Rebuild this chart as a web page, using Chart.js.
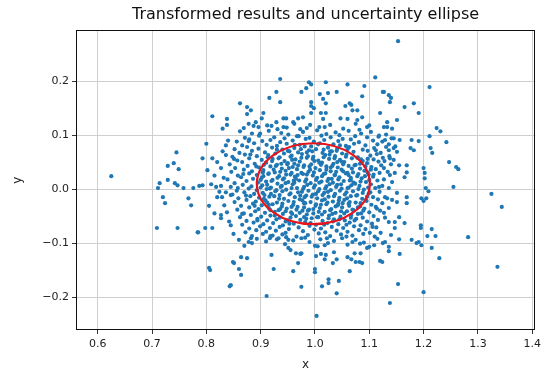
<!DOCTYPE html>
<html><head><meta charset="utf-8">
<script src="https://cdn.jsdelivr.net/npm/chart.js@4"></script>
<style>html,body{margin:0;padding:0;background:#fff}</style>
</head><body>
<canvas id="c" width="545" height="374"></canvas>
<script>
const chartTitle = 'Transformed results and uncertainty ellipse';
const xAxisLabel = 'x';
const yAxisLabel = 'y';
const xTickValues = [0.6, 0.7, 0.8, 0.9, 1.0, 1.1, 1.2, 1.3, 1.4];
const yTickValues = [-0.2, -0.1, 0.0, 0.1, 0.2];
const xRange = [0.56, 1.4055];
const yRange = [-0.261, 0.2944];
const ellipseCenter = [0.997, 0.010];
const ellipseRadii = [0.104, 0.075];

// outlying points
const outerPoints = [
[0.625,0.024],[1.153,0.274],[1.211,0.189],[1.325,-0.009],[1.344,-0.033],[1.336,-0.144],[1.2,-0.191],[1.138,-0.211],
[1.153,-0.176],[1.229,-0.128],[1.282,-0.089],[1.003,-0.235],[0.911,-0.198],[0.805,-0.146],[0.807,-0.150],[0.843,-0.180],
[0.849,-0.135],[0.709,-0.072],[0.747,-0.072],[0.784,-0.080],[0.711,0.002],[0.714,0.011],[0.72,-0.015],[0.724,-0.026],
[0.729,0.017],[0.729,0.043],[0.74,0.048],[0.745,0.068],[0.749,0.037],[0.742,0.011],[0.747,0.007],[0.758,0.002],
[0.767,-0.017],[0.772,-0.030],[0.776,0.002],[0.793,0.057],[0.811,0.057],[0.802,0.035],[0.787,0.006],[0.793,0.007],
[0.805,-0.031],[0.785,-0.080],[0.798,-0.072],[0.811,-0.072],[0.836,0.081],[0.836,0.063],[0.82,0.05],[0.827,0.039],
[0.809,0.009],[0.818,0.004],[0.827,0.006],[0.82,-0.015],[0.829,-0.015],[0.836,-0.006],[0.833,-0.03],[0.838,-0.043],
[0.845,-0.011],[0.827,-0.048],[0.827,-0.054],[0.845,-0.067],[0.838,0.119],[0.811,0.135],[0.838,0.13],
[0.936,0.204],[0.989,0.198],[0.993,0.194],[1.02,0.198],[1.06,0.194],[1.091,0.191],[1.111,0.207],[0.929,0.18],
[0.916,0.169],[0.936,0.161],[0.975,0.18],[0.984,0.187],[1.009,0.176],[1.024,0.178],[1.04,0.18],[1.087,0.172],
[1.125,0.18],[1.015,0.167],[1.02,0.159],[0.993,0.161],[0.993,0.154],[0.862,0.159],[0.875,0.152],[0.882,0.146],
[0.875,0.139],[0.905,0.141],[0.902,0.131],[0.891,0.124],[0.887,0.117],[0.896,0.115],[0.869,0.113],[0.92,0.117],
[0.929,0.124],[0.942,0.131],[0.947,0.131],[0.96,0.124],[0.969,0.131],[0.978,0.133],[0.993,0.141],[0.998,0.15],
[0.991,0.119],[1.011,0.141],[1.02,0.141],[1.015,0.13],[1.018,0.115],[1.047,0.131],[1.056,0.154],[1.064,0.159],
[1.067,0.156],[1.069,0.146],[1.078,0.146],[1.06,0.13],[1.078,0.128],[1.087,0.133],[1.096,0.115],[1.12,0.141],
[1.127,0.115],[0.973,0.111],[0.942,0.115],
[1.127,0.18],[1.136,0.174],[1.14,0.169],[1.138,0.161],[1.165,0.152],[1.182,0.159],[1.191,0.141],[1.151,0.128],
[1.133,0.124],[1.133,0.115],[1.224,0.113],
[1.231,0.107],[1.211,0.098],[1.242,0.087],[1.213,0.076],[1.216,0.067],[1.247,0.05],[1.26,0.041],[1.264,0.037],
[1.255,0.004],[1.2,0.039],[1.202,0.03],[1.202,0.02],[1.204,0.002],[1.209,-0.004],[1.196,-0.017],[1.205,-0.017],
[1.2,-0.022],[1.195,-0.067],[1.195,-0.072],[1.215,-0.074],
[1.129,0.091],[1.145,0.094],[1.156,0.091],[1.178,0.091],[1.191,0.089],[1.176,0.076],[1.182,0.072],[1.136,0.072],
[1.145,0.076],[1.151,0.069],[1.138,0.057],[1.145,0.054],[1.155,0.044],[1.127,0.039],[1.169,0.044],[1.169,0.031],
[1.165,0.022],[1.138,0.026],[1.142,0.013],[1.136,0.002],[1.151,-0.007],[1.129,-0.015],[1.142,-0.02],[1.151,-0.024],
[1.169,-0.015],[1.169,-0.026],[1.136,-0.035],[1.155,-0.052],[1.147,-0.061],[1.165,-0.063],[1.136,-0.061],[1.127,-0.044],
[1.147,-0.072],
[1.129,-0.098],[1.136,-0.107],[1.136,-0.115],[1.155,-0.093],[1.156,-0.12],[1.178,-0.094],[1.187,-0.1],[1.191,-0.098],
[1.196,-0.104],[1.207,-0.087],[1.222,-0.087],[1.215,-0.109],[1.124,-0.135],
[0.851,-0.137],[0.864,-0.126],[0.875,-0.128],[0.86,-0.148],[0.864,-0.159],[0.845,-0.178],[0.878,-0.098],[0.884,-0.1],
[0.92,-0.122],[0.924,-0.148],[0.951,-0.109],[0.955,-0.113],[0.947,-0.089],[0.965,-0.119],[0.975,-0.119],[0.969,-0.137],
[0.96,-0.152],[0.975,-0.181],[1.0,-0.148],[1.0,-0.154],[1.002,-0.124],[1.011,-0.12],[1.02,-0.122],[1.018,-0.13],
[1.035,-0.117],[1.033,-0.137],[1.04,-0.13],[1.013,-0.18],[1.025,-0.167],[1.025,-0.174],[1.044,-0.17],[1.04,-0.193],
[1.064,-0.152],[1.06,-0.126],[1.067,-0.13],[1.075,-0.135],[1.082,-0.135],[1.087,-0.137],[1.084,-0.119],[1.073,-0.119],
[1.12,-0.133],[1.096,-0.109],[1.069,-0.098],[1.109,-0.104],[1.024,-0.1],[1.018,-0.104],[1.005,-0.106],[0.973,-0.12],
[0.882,-0.091],[0.918,-0.087],[0.933,-0.091],
[0.815,0.025],[0.83,0.07],[0.824,-0.005],[0.832,0.021],[0.84,0.09],[0.815,-0.045],[0.842,-0.06],[0.83,0.112],[0.8,0.084],
[0.878,0.121],[0.912,0.118],[0.948,0.114],[0.962,0.121],[0.985,0.113],[1.028,0.119],[1.052,0.112],[1.075,0.121],
[1.1,0.118],[1.142,0.112],
[0.86,-0.094],[0.893,-0.092],[0.91,-0.097],[0.93,-0.093],[0.96,-0.095],[0.975,-0.091],[0.99,-0.098],[1.01,-0.093],
[1.035,-0.096],[1.05,-0.091],[1.075,-0.094],[1.09,-0.099],[1.115,-0.092],[1.125,-0.1],[1.14,-0.085],[0.85,-0.083],
[0.87,-0.105],[0.945,-0.102],[1.0,-0.105],[1.06,-0.103],[1.1,-0.107]
];

// main cloud read row by row
const cloudPoints = [
[0.862,0.107],[0.884,0.103],[0.915,0.108],[0.938,0.104],[0.951,0.101],[0.978,0.106],[1.004,0.109],[1.021,0.102],[1.038,0.105],[1.062,0.108],[1.085,0.103],[1.103,0.106],[1.131,0.101],
[0.871,0.095],[0.897,0.099],[0.925,0.096],[0.944,0.094],[0.967,0.098],[0.99,0.095],[1.012,0.099],[1.029,0.096],[1.051,0.093],[1.074,0.098],[1.096,0.096],[1.118,0.099],[1.141,0.094],
[0.856,0.088],[0.879,0.092],[0.903,0.089],[0.918,0.091],[0.936,0.087],[0.959,0.090],[0.983,0.093],[0.998,0.088],[1.017,0.091],[1.043,0.089],[1.066,0.092],[1.081,0.087],[1.107,0.090],[1.124,0.088],
[0.866,0.081],[0.888,0.085],[0.911,0.082],[0.93,0.080],[0.948,0.084],[0.972,0.082],[0.993,0.079],[1.009,0.085],[1.034,0.083],[1.057,0.080],[1.072,0.084],[1.093,0.081],[1.115,0.083],[1.148,0.079],
[0.852,0.074],[0.875,0.078],[0.896,0.075],[0.921,0.077],[0.94,0.073],[0.962,0.076],[0.981,0.079],[1.002,0.074],[1.024,0.077],[1.041,0.075],[1.063,0.078],[1.088,0.073],[1.109,0.076],[1.131,0.078],
[0.861,0.067],[0.884,0.071],[0.908,0.068],[0.927,0.066],[0.953,0.070],[0.969,0.068],[0.989,0.072],[1.014,0.067],[1.031,0.070],[1.05,0.066],[1.071,0.069],[1.097,0.071],[1.121,0.067],
[0.848,0.060],[0.871,0.064],[0.893,0.061],[0.914,0.063],[0.935,0.059],[0.957,0.062],[0.976,0.065],[0.997,0.060],[1.019,0.063],[1.037,0.061],[1.058,0.064],[1.079,0.059],[1.102,0.062],[1.114,0.065],[1.137,0.061],
[0.857,0.053],[0.879,0.057],[0.902,0.054],[0.922,0.056],[0.944,0.052],[0.964,0.055],[0.985,0.058],[1.006,0.053],[1.026,0.056],[1.046,0.054],[1.068,0.057],[1.088,0.052],[1.108,0.055],[1.125,0.058],
[0.843,0.046],[0.866,0.050],[0.889,0.047],[0.91,0.049],[0.93,0.045],[0.95,0.048],[0.972,0.051],[0.993,0.046],[1.013,0.049],[1.034,0.047],[1.054,0.050],[1.075,0.045],[1.096,0.048],[1.117,0.051],[1.14,0.046],
[0.853,0.039],[0.876,0.043],[0.897,0.040],[0.918,0.042],[0.939,0.038],[0.959,0.041],[0.98,0.044],[1.001,0.039],[1.021,0.042],[1.042,0.040],[1.062,0.043],[1.083,0.038],[1.104,0.041],[1.122,0.044],
[0.846,0.032],[0.869,0.036],[0.884,0.033],[0.905,0.035],[0.926,0.031],[0.946,0.034],[0.967,0.037],[0.988,0.032],[1.009,0.035],[1.029,0.033],[1.049,0.036],[1.07,0.031],[1.091,0.034],[1.112,0.037],[1.134,0.032],
[0.858,0.025],[0.879,0.029],[0.893,0.026],[0.914,0.028],[0.934,0.024],[0.955,0.027],[0.975,0.030],[0.996,0.025],[1.016,0.028],[1.037,0.026],[1.057,0.029],[1.078,0.024],[1.099,0.027],[1.119,0.030],
[0.839,0.018],[0.864,0.022],[0.886,0.019],[0.902,0.021],[0.922,0.017],[0.943,0.020],[0.963,0.023],[0.984,0.018],[1.004,0.021],[1.025,0.019],[1.045,0.022],[1.066,0.017],[1.086,0.020],[1.107,0.023],[1.127,0.018],
[0.852,0.011],[0.874,0.015],[0.895,0.012],[0.91,0.014],[0.931,0.010],[0.951,0.013],[0.971,0.016],[0.992,0.011],[1.012,0.014],[1.033,0.012],[1.053,0.015],[1.074,0.010],[1.094,0.013],[1.115,0.016],
[0.845,0.004],[0.867,0.008],[0.883,0.005],[0.903,0.007],[0.919,0.003],[0.939,0.006],[0.959,0.009],[0.98,0.004],[1.0,0.007],[1.021,0.005],[1.041,0.008],[1.062,0.003],[1.082,0.006],[1.103,0.009],[1.118,0.004],
[0.856,-0.003],[0.878,0.001],[0.893,-0.002],[0.911,0.000],[0.927,-0.004],[0.947,-0.001],[0.967,0.002],[0.988,-0.003],[1.008,0.000],[1.029,-0.002],[1.049,0.001],[1.07,-0.004],[1.09,-0.001],[1.111,0.002],
[0.848,-0.010],[0.87,-0.006],[0.888,-0.009],[0.904,-0.007],[0.935,-0.011],[0.955,-0.008],[0.976,-0.005],[0.996,-0.010],[1.017,-0.007],[1.037,-0.009],[1.058,-0.006],[1.078,-0.011],[1.099,-0.008],[1.119,-0.005],
[0.859,-0.017],[0.881,-0.013],[0.897,-0.016],[0.916,-0.014],[0.943,-0.018],[0.963,-0.015],[0.984,-0.012],[1.004,-0.017],[1.025,-0.014],[1.045,-0.016],[1.066,-0.013],[1.087,-0.018],[1.107,-0.015],
[0.852,-0.024],[0.874,-0.020],[0.891,-0.023],[0.909,-0.021],[0.93,-0.025],[0.951,-0.022],[0.972,-0.019],[0.992,-0.024],[1.013,-0.021],[1.033,-0.023],[1.054,-0.020],[1.075,-0.025],[1.095,-0.022],[1.116,-0.019],
[0.864,-0.031],[0.886,-0.027],[0.902,-0.030],[0.922,-0.028],[0.939,-0.032],[0.96,-0.029],[0.98,-0.026],[1.001,-0.031],[1.021,-0.028],[1.042,-0.030],[1.062,-0.027],[1.083,-0.032],[1.104,-0.029],[1.124,-0.026],
[0.857,-0.038],[0.879,-0.034],[0.896,-0.037],[0.915,-0.035],[0.933,-0.039],[0.948,-0.036],[0.968,-0.033],[0.989,-0.038],[1.009,-0.035],[1.03,-0.037],[1.05,-0.034],[1.071,-0.039],[1.091,-0.036],[1.112,-0.033],
[0.869,-0.045],[0.89,-0.041],[0.908,-0.044],[0.926,-0.042],[0.941,-0.046],[0.956,-0.043],[0.977,-0.040],[0.997,-0.045],[1.018,-0.042],[1.038,-0.044],[1.059,-0.041],[1.079,-0.046],[1.1,-0.043],[1.12,-0.040],
[0.862,-0.052],[0.882,-0.048],[0.901,-0.051],[0.918,-0.049],[0.935,-0.053],[0.965,-0.050],[0.985,-0.047],[1.006,-0.052],[1.026,-0.049],[1.047,-0.051],[1.067,-0.048],[1.088,-0.053],[1.108,-0.050],
[0.874,-0.059],[0.894,-0.055],[0.912,-0.058],[0.929,-0.056],[0.946,-0.060],[0.973,-0.057],[0.994,-0.054],[1.014,-0.059],[1.035,-0.056],[1.055,-0.058],[1.076,-0.055],[1.096,-0.060],[1.116,-0.057],
[0.866,-0.066],[0.887,-0.062],[0.905,-0.065],[0.923,-0.063],[0.941,-0.067],[0.961,-0.064],[0.982,-0.061],[1.002,-0.066],[1.023,-0.063],[1.043,-0.065],[1.064,-0.062],[1.084,-0.067],[1.105,-0.064],
[0.879,-0.073],[0.899,-0.069],[0.917,-0.072],[0.935,-0.070],[0.952,-0.074],[0.97,-0.071],[0.99,-0.068],[1.011,-0.073],[1.031,-0.070],[1.052,-0.072],[1.072,-0.069],[1.093,-0.074],[1.113,-0.071],
[0.872,-0.080],[0.892,-0.076],[0.91,-0.079],[0.928,-0.077],[0.946,-0.081],[0.978,-0.078],[0.999,-0.075],[1.019,-0.080],[1.04,-0.077],[1.06,-0.079],[1.081,-0.076],[1.101,-0.081],
[0.884,-0.087],[0.904,-0.083],[0.922,-0.086],[0.94,-0.084],[0.966,-0.088],[0.987,-0.085],[1.007,-0.082],[1.028,-0.087],[1.048,-0.084],[1.069,-0.086],[1.089,-0.083],[1.11,-0.088]
];

// extra points in the dense core
const corePoints = [
[0.93,0.073],[0.95,0.071],[0.974,0.074],[0.995,0.070],[1.016,0.073],[1.04,0.071],[1.06,0.074],
[0.913,0.059],[0.933,0.057],[0.955,0.060],[0.975,0.058],[0.996,0.056],[1.016,0.059],[1.036,0.057],[1.057,0.060],[1.078,0.058],[1.097,0.056],
[0.906,0.045],[0.928,0.043],[0.949,0.046],[0.969,0.044],[0.99,0.042],[1.011,0.045],[1.032,0.043],[1.052,0.046],[1.073,0.044],[1.093,0.042],
[0.904,0.031],[0.915,0.029],[0.936,0.032],[0.957,0.030],[0.978,0.028],[0.998,0.031],[1.019,0.029],[1.039,0.032],[1.06,0.030],[1.08,0.028],[1.097,0.031],
[0.9,0.017],[0.92,0.015],[0.941,0.018],[0.961,0.016],[0.982,0.014],[1.002,0.017],[1.023,0.015],[1.043,0.018],[1.064,0.016],[1.084,0.014],[1.1,0.017],
[0.9,0.003],[0.917,0.001],[0.937,0.004],[0.957,0.002],[0.978,0.000],[0.998,0.003],[1.019,0.001],[1.039,0.004],[1.06,0.002],[1.08,0.000],[1.098,0.003],
[0.907,-0.011],[0.925,-0.013],[0.953,-0.010],[0.973,-0.012],[0.994,-0.014],[1.014,-0.011],[1.035,-0.013],[1.055,-0.010],[1.076,-0.012],[1.096,-0.014],
[0.912,-0.025],[0.94,-0.027],[0.961,-0.024],[0.982,-0.026],[1.002,-0.028],[1.023,-0.025],[1.043,-0.027],[1.064,-0.024],[1.084,-0.026],
[0.918,-0.039],[0.946,-0.041],[0.966,-0.038],[0.987,-0.040],[1.007,-0.042],[1.028,-0.039],[1.048,-0.041],[1.069,-0.038],[1.089,-0.040],
[0.955,-0.053],[0.984,-0.055],[1.004,-0.052],[1.025,-0.054],[1.045,-0.056],[1.066,-0.053]
];

// gaps filled where the picture is solid blue
const fillPoints = [
[0.921,0.052],[0.943,0.066],[0.962,0.047],[0.987,0.061],[1.008,0.049],[1.027,0.064],[1.049,0.051],[1.068,0.038],[1.085,0.055],
[0.931,0.021],[0.952,0.039],[0.968,0.026],[0.991,0.036],[1.013,0.024],[1.031,0.019],[1.052,0.033],[1.071,0.012],[1.092,0.024],
[0.912,0.008],[0.929,-0.002],[0.946,0.011],[0.969,-0.006],[0.986,0.008],[1.006,-0.004],[1.027,0.009],[1.046,-0.003],[1.067,0.007],[1.088,-0.007],
[0.915,-0.029],[0.934,-0.018],[0.957,-0.033],[0.977,-0.021],[0.997,-0.037],[1.018,-0.019],[1.038,-0.032],[1.059,-0.017],[1.079,-0.034],[1.094,-0.02],
[0.926,-0.049],[0.95,-0.058],[0.972,-0.044],[0.992,-0.063],[1.013,-0.047],[1.033,-0.06],[1.054,-0.045],[1.073,-0.058],
[0.963,0.082],[0.985,0.068],[1.006,0.083],[1.028,0.07],[1.046,0.081],[0.905,0.024],[0.906,-0.018],[1.103,0.036],[1.102,-0.006],
[0.938,0.047],[0.958,0.054],[0.979,0.041],[0.999,0.052],[1.021,0.036],[1.041,0.05],[1.062,0.026],[1.083,0.047],
[0.924,0.036],[0.947,0.027],[0.965,0.019],[0.985,0.027],[1.008,0.012],[1.029,0.04],[1.048,0.009],[1.066,0.021],
[0.919,-0.009],[0.94,-0.004],[0.962,0.012],[0.981,-0.015],[1.002,-0.009],[1.024,-0.005],[1.044,-0.021],[1.063,-0.031],[1.085,-0.045],
[0.936,-0.037],[0.958,-0.046],[0.98,-0.034],[1.011,-0.029],[1.032,-0.046],[1.051,-0.026],[0.98,-0.052],[1.036,0.026],[0.953,-0.064],[1.017,-0.066],[1.058,-0.066],
[0.851,0.056],[0.868,0.028],[0.881,0.064],[0.892,0.042],[0.858,0.002],[0.873,-0.012],[0.889,-0.031],[0.866,-0.046],[0.894,-0.058],
[0.878,0.089],[0.899,0.103],[1.112,0.072],[1.128,0.052],[1.147,0.03],[1.108,0.027],[1.124,0.006],[1.133,-0.017],[1.114,-0.036],
[1.129,-0.053],[1.106,-0.07],[1.121,-0.081],[1.117,0.097],[1.136,0.083],[0.917,-0.091],[0.951,-0.094],[0.982,-0.09],[1.022,-0.091],
[1.058,-0.088],[1.083,-0.101],[0.931,0.111],[0.97,0.098],[1.008,0.115],[1.045,0.1],[1.082,0.11]
];

const allPoints = outerPoints.concat(cloudPoints, corePoints, fillPoints).map(([x, y]) => ({x, y}));

const fmt = v => (v < 0 ? '\u2212' : '') + Math.abs(v).toFixed(1);

const framePlugin = {
  id: 'frameAndEllipse',
  afterDatasetsDraw(chart) {
    const {ctx, chartArea: a, scales: {x, y}} = chart;
    const cx = x.getPixelForValue(ellipseCenter[0]);
    const cy = y.getPixelForValue(ellipseCenter[1]);
    const rx = x.getPixelForValue(ellipseCenter[0] + ellipseRadii[0]) - cx;
    const ry = cy - y.getPixelForValue(ellipseCenter[1] + ellipseRadii[1]);
    ctx.save();
    ctx.beginPath();
    ctx.ellipse(cx, cy, rx, ry, 0, 0, Math.PI * 2);
    ctx.strokeStyle = '#e8141c';
    ctx.lineWidth = 2.2;
    ctx.stroke();
    ctx.strokeStyle = '#111';
    ctx.lineWidth = 1;
    ctx.strokeRect(Math.round(a.left) + 0.5, Math.round(a.top) + 0.5, Math.round(a.right - a.left) - 1, Math.round(a.bottom - a.top) - 1);
    ctx.restore();
  }
};

const tickFont = {family: 'DejaVu Sans', size: 11};
new Chart(document.getElementById('c'), {
  type: 'scatter',
  data: {datasets: [{
    data: allPoints,
    backgroundColor: '#1f77b4',
    borderWidth: 0,
    pointRadius: 2.1,
    pointHoverRadius: 2.1
  }]},
  options: {
    responsive: false,
    animation: false,
    devicePixelRatio: 1,
    layout: {padding: {left: 0, right: 4, top: 0, bottom: 0}},
    plugins: {
      legend: {display: false},
      tooltip: {enabled: false},
      title: {
        display: true, text: chartTitle, fullSize: false, color: '#111',
        font: {family: 'DejaVu Sans', size: 16, weight: 'normal'},
        padding: {top: 5, bottom: 6}
      }
    },
    scales: {
      x: {
        type: 'linear', min: xRange[0], max: xRange[1],
        afterFit: s => { s.height = 44; },
        afterBuildTicks: s => { s.ticks = xTickValues.map(v => ({value: v})); },
        ticks: {callback: v => v.toFixed(1), color: '#222', font: tickFont, padding: 4, maxRotation: 0, autoSkip: false},
        grid: {color: '#cfcfcf', lineWidth: 1, tickLength: 4, tickColor: '#333'},
        border: {display: false},
        title: {display: true, text: xAxisLabel, color: '#222', font: {family: 'DejaVu Sans', size: 12}, padding: {top: 0, bottom: 2}}
      },
      y: {
        type: 'linear', min: yRange[0], max: yRange[1],
        afterFit: s => { s.width = 76; },
        afterBuildTicks: s => { s.ticks = yTickValues.map(v => ({value: v})); },
        ticks: {callback: fmt, color: '#222', font: tickFont, padding: 3, autoSkip: false},
        grid: {color: '#cfcfcf', lineWidth: 1, tickLength: 4, tickColor: '#333'},
        border: {display: false},
        title: {display: true, text: yAxisLabel, color: '#222', font: {family: 'DejaVu Sans', size: 12}, padding: {top: 11, bottom: 0}}
      }
    }
  },
  plugins: [framePlugin]
});
</script>
</body></html>
